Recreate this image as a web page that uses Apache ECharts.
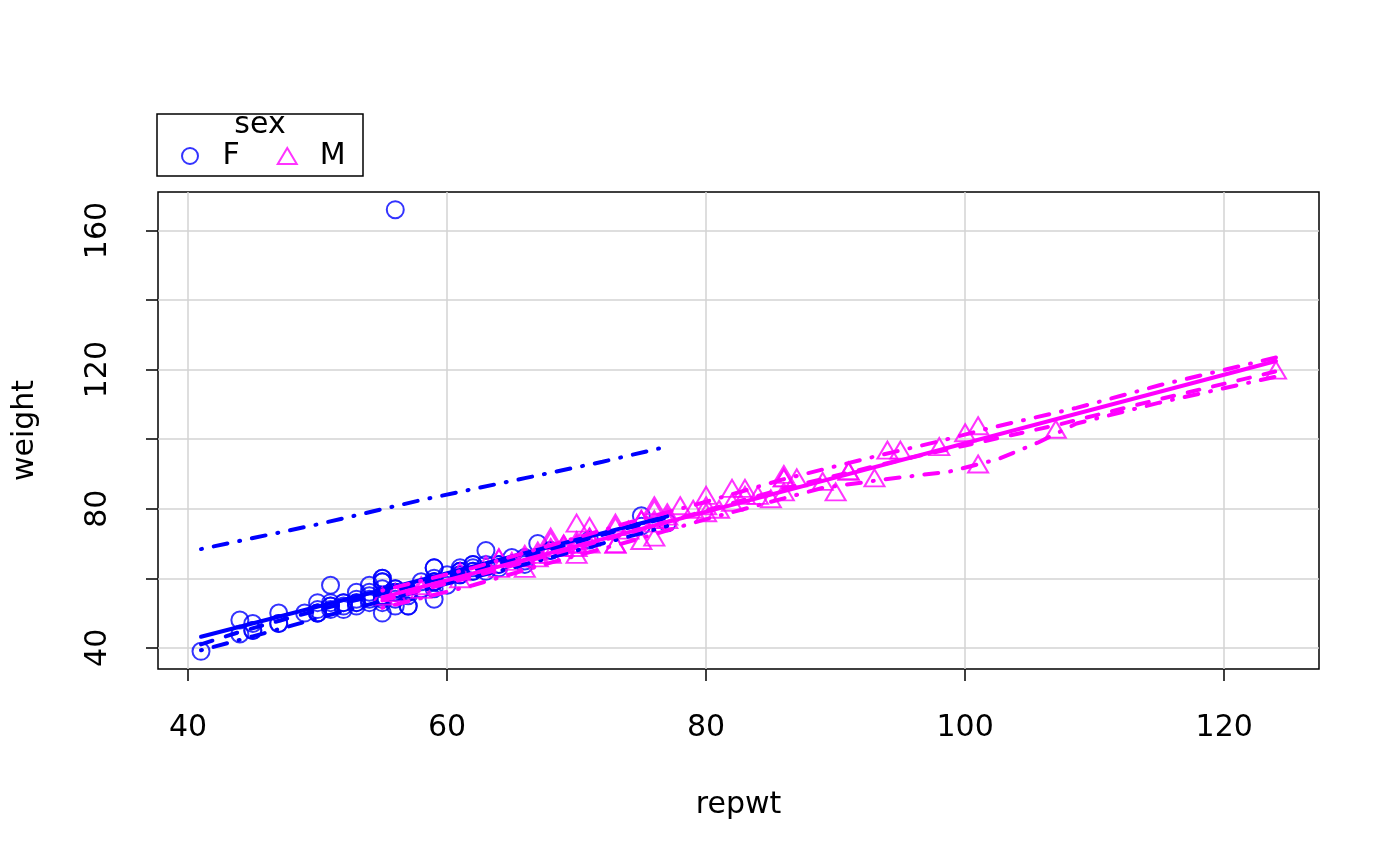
<!DOCTYPE html>
<html><head><meta charset="utf-8">
<script src="https://cdn.jsdelivr.net/npm/echarts@6/dist/echarts.min.js"></script>
<style>html,body{margin:0;padding:0;background:#fff}#c{width:1400px;height:866px}</style>
</head><body><div id="c"></div>
<script>
// tick values
const xTicks = [40, 60, 80, 100, 120];
const yTicks = [40, 60, 80, 100, 120, 140, 160];
const yLabelTicks = [40, 80, 120, 160];

// points: [repwt, weight]
const femalePoints = [
 [51,58],[54,53],[59,59],[56,166],[52,51],[64,64],[57,52],[66,65],[62,62],[61,61],
 [61,61],[59,54],[50,50],[61,63],[60,58],[41,39],[71,71],[57,52],[63,68],[54,56],
 [53,54],[59,63],[55,54],[56,54],[75,75],[57,56],[65,66],[75,78],[59,60],[63,64],
 [62,64],[51,52],[61,62],[54,55],[57,56],[50,50],[55,50],[64,63],[60,61],[52,53],
 [55,60],[56,56],[53,53],[59,57],[56,57],[56,56],[57,56],[50,50],[52,52],[55,55],
 [47,47],[45,45],[63,62],[51,53],[51,52],[55,57],[64,64],[55,59],[57,55],[77,76],
 [62,62],[68,68],[55,55],[56,52],[45,45],[68,68],[44,44],[61,62],[53,56],[47,50],
 [53,53],[62,64],[53,52],[55,53],[66,64],[55,55],[55,59],[67,70],[58,57],[47,47],
 [45,47],[44,48],[56,57],[50,51],[54,54],[52,53],[58,59],[59,59],[62,63],[66,66],
 [50,53],[59,63],[56,56],[55,60],[54,58],[49,50],[59,59],[51,51],[61,62]
];
const malePoints = [
 [77,77],[70,68],[76,76],[77,76],[73,69],[71,71],[64,65],[75,70],[101,92],[75,76],
 [124,119],[66,65],[70,66],[100,101],[73,75],[76,79],[65,64],[69,69],[86,88],[67,65],
 [80,80],[80,78],[82,85],[85,82],[73,74],[107,102],[64,65],[74,73],[70,75],[58,57],
 [69,68],[71,71],[76,71],[98,97],[76,80],[66,66],[70,69],[70,69],[56,55],[61,59],
 [66,62],[68,70],[86,84],[71,69],[87,88],[101,103],[63,63],[90,84],[79,79],[67,67],
 [83,83],[94,96],[76,75],[66,65],[77,78],[73,69],[89,87],[84,83],[91,90],[83,85],
 [68,66],[55,54],[86,88],[69,69],[58,56],[95,96],[75,76],[61,61],[64,62],[68,71],
 [67,66],[82,81],[68,68],[78,80],[70,70],[75,76],[93,88],[86,89],[71,74],[80,83],
 [91,90],[81,79]
];

// fitted lines: [repwt, weight]
const femaleReg = [[41,43.2],[77,77.8]];
const femaleSmooth = [[41,41],[44,44.6],[48,48.8],[52,52.8],[56,56.6],[60,60.5],[64,64.3],[68,68.3],[72,72.5],[77,77.5]];
const femaleUpper = [[41,68.4],[50,75.5],[58,82.5],[66,88.8],[72,93.5],[77,97.9]];
const femaleLower = [[41,39.3],[45,43.3],[50,48.5],[55,53.5],[60,58.5],[65,63],[70,68],[77,75]];
const maleReg = [[55,54.5],[124,122.5]];
const maleSmooth = [[55,53.6],[62,60.5],[68,66.8],[74,73],[80,79.5],[86,85.8],[90,89.5],[95,94],[100,98.2],[107,104],[115,111.5],[124,119.5]];
const maleUpper = [[55,56.5],[62,63],[68,69.5],[74,76],[80,82],[86,88.5],[93,95],[98,99.4],[102,103.3],[108.6,109],[115,115.5],[124,123.5]];
const maleLower = [[55,51.5],[62,58],[68,64.5],[74,70.5],[80,77],[86,83],[89,86],[93.7,88.4],[98.8,90.7],[102.5,94.2],[105.6,99],[108.6,104.5],[115,110.5],[124,118]];

const BLUE = '#0000ff', MAG = '#ff00ff';
const FONT = 'DejaVu Sans';
const FS = 30;
const DASH = [12, 14];
const DOTDASH = [1, 12, 14, 12];

function lineSeries(name, data, color, type) {
  return {
    name: name, type: 'line', data: data, symbol: 'none', silent: true,
    lineStyle: {color: color, width: 4, type: type, cap: 'round', join: 'round'},
    z: 3
  };
}

const chart = echarts.init(document.getElementById('c'), null, {renderer: 'canvas'});
chart.setOption({
  animation: false,
  backgroundColor: '#fff',
  textStyle: {fontFamily: FONT},
  grid: {left: 158, right: 81, top: 192, bottom: 197, show: true, borderColor: '#000', borderWidth: 1.5, backgroundColor: 'transparent'},
  xAxis: {
    type: 'value', min: 37.68, max: 127.32,
    name: 'repwt', nameLocation: 'middle', nameGap: 121,
    nameTextStyle: {fontSize: FS, color: '#000', fontFamily: FONT},
    axisLine: {show: false},
    axisTick: {show: true, length: 12, lineStyle: {color: '#000', width: 1.5}, customValues: xTicks},
    axisLabel: {fontSize: FS, color: '#000', margin: 44, fontFamily: FONT, customValues: xTicks},
    splitLine: {show: true, lineStyle: {color: '#d3d3d3', width: 1.5}}
  },
  yAxis: {
    type: 'value', min: 33.92, max: 171.08,
    name: 'weight', nameLocation: 'middle', nameGap: 118, nameRotate: 90,
    nameTextStyle: {fontSize: FS, color: '#000', fontFamily: FONT},
    axisLine: {show: false},
    axisTick: {show: true, length: 12, lineStyle: {color: '#000', width: 1.5}, customValues: yTicks},
    axisLabel: {fontSize: FS, color: '#000', margin: 45, rotate: 90, fontFamily: FONT, customValues: yLabelTicks},
    splitLine: {show: true, lineStyle: {color: '#d3d3d3', width: 1.5}}
  },
  legend: {
    left: 181, top: 141, orient: 'horizontal', padding: 0,
    itemWidth: 19, itemHeight: 16, itemGap: 37,
    textStyle: {fontSize: FS, color: '#000', fontFamily: FONT, padding: [0, 0, 0, 18]},
    selectedMode: false,
    data: [
      {name: 'F', icon: 'circle', itemStyle: {color: 'rgba(0,0,0,0)', borderColor: BLUE, borderWidth: 2}},
      {name: 'M', icon: 'triangle', itemStyle: {color: 'rgba(0,0,0,0)', borderColor: MAG, borderWidth: 2}}
    ]
  },
  graphic: [
    {type: 'rect', x: 157, y: 114, shape: {width: 206, height: 62}, style: {fill: 'none', stroke: '#000', lineWidth: 1.5}, silent: true},
    {type: 'text', x: 260, y: 125, style: {text: 'sex', font: FS + 'px "DejaVu Sans"', fill: '#000', align: 'center', verticalAlign: 'middle'}, silent: true}
  ],
  series: [
    {name: 'F', type: 'scatter', data: femalePoints, symbol: 'circle', symbolSize: 17,
     itemStyle: {color: 'rgba(0,0,0,0)', borderColor: BLUE, borderWidth: 2}, z: 2},
    {name: 'M', type: 'scatter', data: malePoints, symbol: 'triangle', symbolSize: [20, 17], symbolOffset: [0, -3],
     itemStyle: {color: 'rgba(0,0,0,0)', borderColor: MAG, borderWidth: 2}, z: 2},
    lineSeries('F regression', femaleReg, BLUE, 'solid'),
    lineSeries('F smooth', femaleSmooth, BLUE, DASH),
    lineSeries('F spread upper', femaleUpper, BLUE, DOTDASH),
    lineSeries('F spread lower', femaleLower, BLUE, DOTDASH),
    lineSeries('M regression', maleReg, MAG, 'solid'),
    lineSeries('M smooth', maleSmooth, MAG, DASH),
    lineSeries('M spread upper', maleUpper, MAG, DOTDASH),
    lineSeries('M spread lower', maleLower, MAG, DOTDASH)
  ]
});
</script>
</body></html>
